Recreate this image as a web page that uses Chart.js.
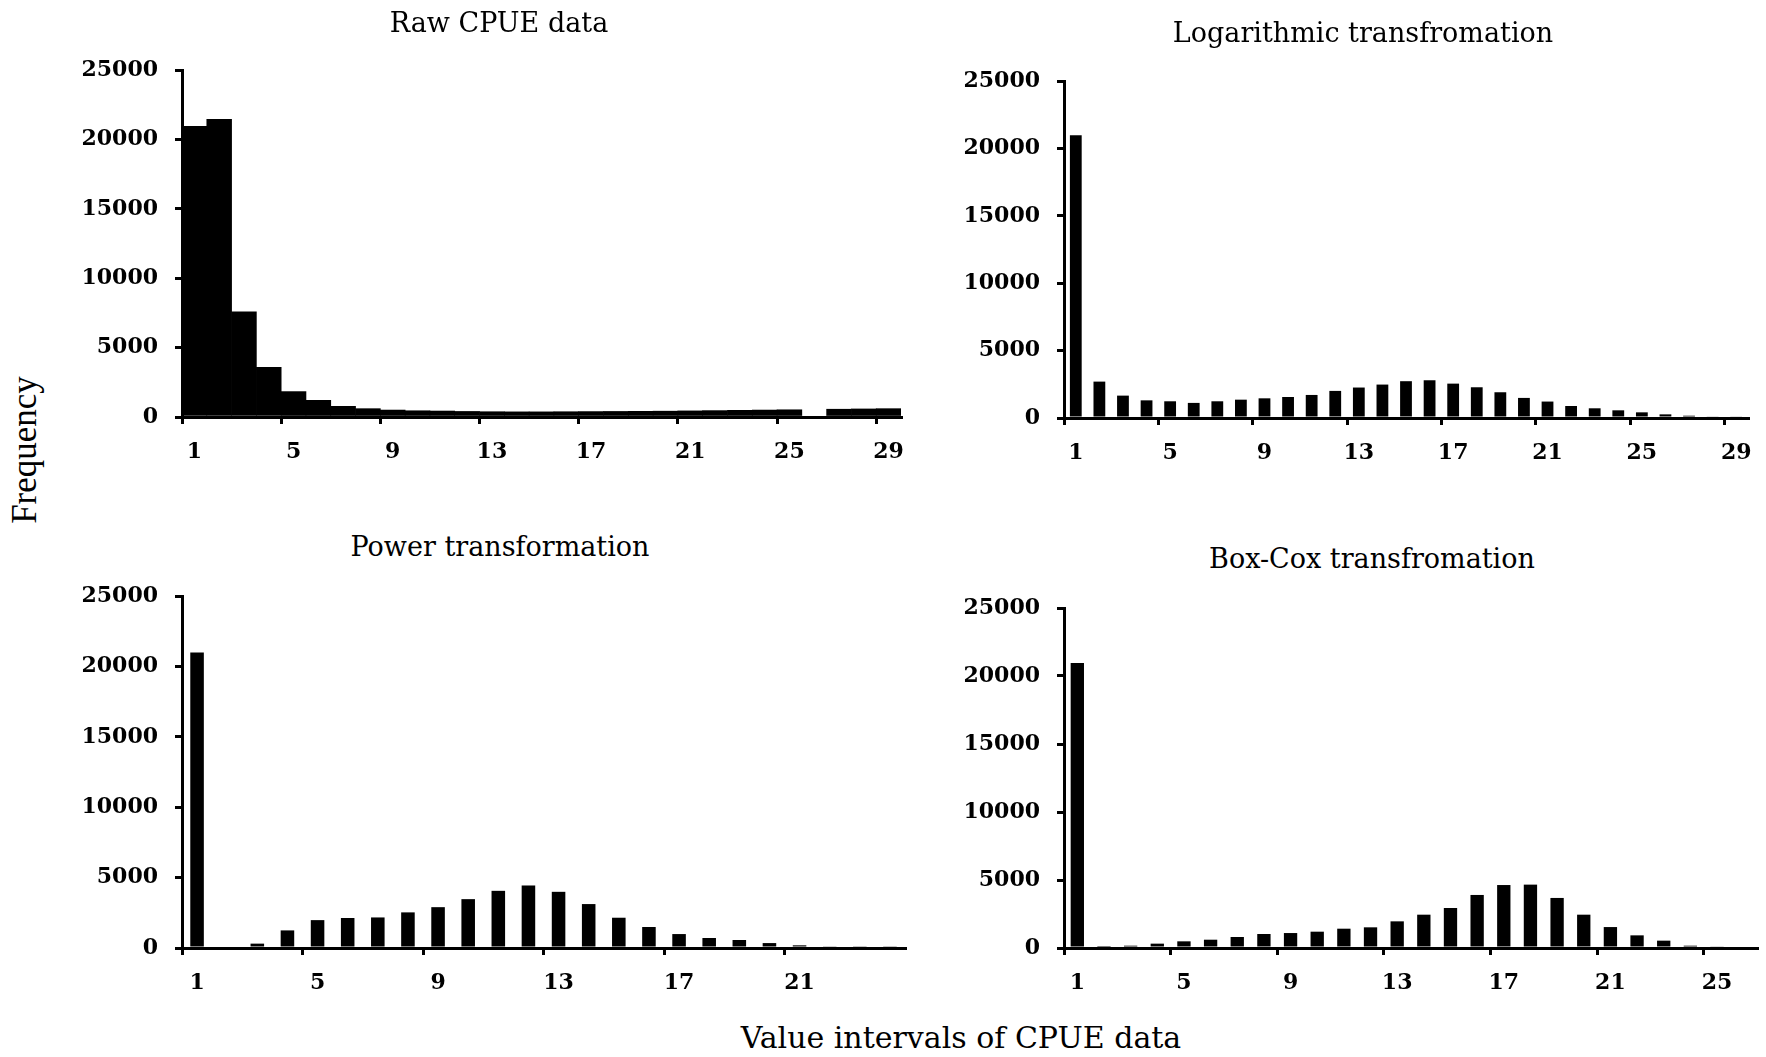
<!DOCTYPE html>
<html>
<head>
<meta charset="utf-8">
<script src="https://cdn.jsdelivr.net/npm/chart.js@4.4.0/dist/chart.umd.min.js"></script>
<style>
  body { margin: 0; background: #fff; }
  #page { position: relative; width: 1766px; height: 1057px; overflow: hidden; background: #fff; font-family: "DejaVu Serif", serif; color: #000; }
  canvas { position: absolute; }
  .title { position: absolute; font-size: 27px; white-space: nowrap; transform: translate(-50%, -50%); }
  #ylab { position: absolute; left: 25px; top: 450px; font-family: "Liberation Serif", serif; font-size: 35px; white-space: nowrap; transform: translate(-50%, -50%) rotate(-90deg); }
  #xlab { position: absolute; left: 961px; top: 1037px; font-size: 30px; white-space: nowrap; transform: translate(-50%, -50%); }
</style>
</head>
<body>
<div id="page">
  <canvas id="c1"></canvas>
  <canvas id="c2"></canvas>
  <canvas id="c3"></canvas>
  <canvas id="c4"></canvas>
  <div class="title" style="left:499px; top:22px;">Raw CPUE data</div>
  <div class="title" style="left:1363px; top:32px;">Logarithmic transfromation</div>
  <div class="title" style="left:500px; top:546px;">Power transformation</div>
  <div class="title" style="left:1372px; top:558px;">Box-Cox transfromation</div>
  <div id="ylab">Frequency</div>
  <div id="xlab">Value intervals of CPUE data</div>
</div>
<script>
// frequency per value interval
const rawCounts = [20950, 21450, 7570, 3570, 1830, 1200, 770, 600, 500, 450, 430, 400, 380, 370, 370,
                   380, 390, 400, 410, 420, 440, 460, 480, 500, 520, 0, 560, 580, 600];
const logCounts = [20980, 2700, 1660, 1310, 1240, 1120, 1240, 1360, 1460, 1560, 1710, 2010, 2260, 2480,
                   2730, 2800, 2550, 2280, 1910, 1490, 1220, 890, 720, 570, 420, 270, 170, 120, 120];
const powerCounts = [20980, 0, 310, 1250, 1980, 2130, 2170, 2530, 2900, 3470, 4060, 4440, 3990, 3120,
                     2150, 1490, 990, 710, 570, 350, 190, 120, 90, 90];
const boxCoxCounts = [20960, 70, 170, 320, 490, 610, 810, 1030, 1100, 1200, 1420, 1520, 1960, 2450,
                      2940, 3900, 4630, 4660, 3680, 2450, 1540, 930, 540, 170, 100, 0];
const yTicks = [0, 5000, 10000, 15000, 20000, 25000];

function intervals(n) {
  return Array.from({length: n}, (_, i) => String(i + 1));
}

Chart.defaults.font.family = '"DejaVu Serif", serif';
Chart.defaults.color = '#000';

const AXIS_W = 110;   // fixed width of y scale
const AXIS_H = 62;    // fixed height of x scale
const PAD_TOP = 34;   // must exceed half label height + tick padding
const PAD_RIGHT = 24;

function drawPanel(id, values, axisX, top, bottom, plotW, barPct) {
  const plotH = bottom - top;
  const canvas = document.getElementById(id);
  const w = AXIS_W + plotW + PAD_RIGHT;
  const h = PAD_TOP + plotH + AXIS_H;
  canvas.width = w;
  canvas.height = h;
  canvas.style.width = w + 'px';
  canvas.style.height = h + 'px';
  canvas.style.left = (axisX - AXIS_W) + 'px';
  canvas.style.top = (top - PAD_TOP) + 'px';

  new Chart(canvas.getContext('2d'), {
    type: 'bar',
    data: {
      labels: intervals(values.length),
      datasets: [{
        data: values,
        backgroundColor: '#000',
        borderWidth: 0,
        barPercentage: barPct,
        categoryPercentage: 1.0
      }]
    },
    options: {
      responsive: false,
      animation: false,
      devicePixelRatio: 1,
      layout: { padding: { top: PAD_TOP, right: PAD_RIGHT, left: 0, bottom: 0 } },
      plugins: { legend: { display: false }, tooltip: { enabled: false } },
      scales: {
        x: {
          afterFit: s => { s.height = AXIS_H; },
          border: { display: true, color: '#000', width: 3 },
          grid: {
            offset: true,
            drawOnChartArea: false,
            drawTicks: true,
            tickLength: 7,
            lineWidth: 3,
            tickColor: c => (c.index % 4 === 0 ? '#000' : 'rgba(0,0,0,0)')
          },
          ticks: {
            autoSkip: false,
            maxRotation: 0,
            padding: 15,
            font: { size: 22, weight: 'bold' },
            callback: (v, i) => (i % 4 === 0 ? String(i + 1) : '')
          }
        },
        y: {
          min: 0,
          max: 25000,
          afterFit: s => { s.width = AXIS_W; },
          afterBuildTicks: s => { s.ticks = yTicks.map(v => ({value: v})); },
          border: { display: true, color: '#000', width: 3 },
          grid: { drawOnChartArea: false, drawTicks: true, tickLength: 7, lineWidth: 3, tickColor: '#000' },
          ticks: { padding: 17, font: { size: 22, weight: 'bold' }, callback: v => String(v) }
        }
      }
    }
  });
}

drawPanel('c1', rawCounts, 182, 70, 417, 719, 1.0);
drawPanel('c2', logCounts, 1064, 81, 418, 684, 0.5);
drawPanel('c3', powerCounts, 182, 596, 948, 723, 0.45);
drawPanel('c4', boxCoxCounts, 1064, 608, 948, 693, 0.5);
</script>
</body>
</html>
